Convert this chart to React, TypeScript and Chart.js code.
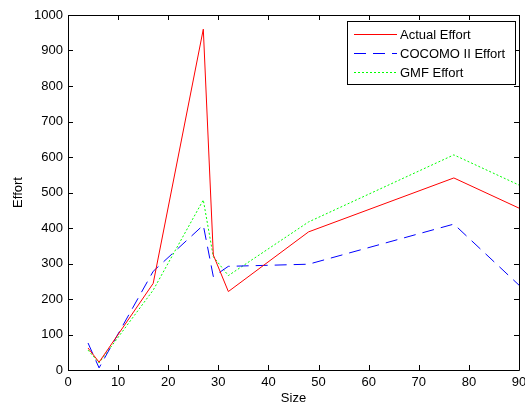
import React, { useEffect, useRef } from "react";
import { Chart, registerables } from "chart.js";

Chart.register(...registerables);

const sizes = [4, 6.2, 17, 27, 29, 32, 48, 77, 90];
const actualEffort = [62, 22, 244, 960, 324, 221, 389, 541, 456];
const cocomoEffort = [76, 6, 278, 408, 263, 292, 298, 411, 239];
const gmfEffort = [56, 20, 225, 479, 319, 266, 417, 606, 521];
const seriesLabels = ["Actual Effort", "COCOMO II Effort", "GMF Effort"];
const xTicks = [0, 10, 20, 30, 40, 50, 60, 70, 80, 90];
const yTicks = [0, 100, 200, 300, 400, 500, 600, 700, 800, 900, 1000];

const FONT = "'Liberation Sans', Arial, sans-serif";

const boxPlugin = {
  id: "matlabBox",
  afterDraw(chart: any) {
    const { ctx, chartArea } = chart;
    const { left, right, top, bottom } = chartArea;
    const xs = chart.scales.x;
    const ys = chart.scales.y;
    ctx.save();
    ctx.strokeStyle = "#000";
    ctx.lineWidth = 1;
    ctx.beginPath();
    ctx.rect(Math.round(left) + 0.5, Math.round(top) + 0.5, Math.round(right - left), Math.round(bottom - top));
    ctx.stroke();
    const tl = 5;
    ctx.beginPath();
    xTicks.forEach((v) => {
      const px = Math.round(xs.getPixelForValue(v)) + 0.5;
      ctx.moveTo(px, bottom);
      ctx.lineTo(px, bottom - tl);
      ctx.moveTo(px, top);
      ctx.lineTo(px, top + tl);
    });
    yTicks.forEach((v) => {
      const py = Math.round(ys.getPixelForValue(v)) + 0.5;
      ctx.moveTo(left, py);
      ctx.lineTo(left + tl, py);
      ctx.moveTo(right, py);
      ctx.lineTo(right - tl, py);
    });
    ctx.stroke();

    // legend
    const lx = 347, ly = 21, lw = 168, lh = 63;
    ctx.fillStyle = "#fff";
    ctx.fillRect(lx, ly, lw, lh);
    ctx.strokeStyle = "#000";
    ctx.strokeRect(lx + 0.5, ly + 0.5, lw, lh);
    ctx.font = "13px " + FONT;
    ctx.textBaseline = "middle";
    ctx.textAlign = "left";
    chart.data.datasets.forEach((ds: any, i: number) => {
      const y = Math.round(ly + 13 + i * 19) + 0.5;
      ctx.strokeStyle = ds.borderColor;
      ctx.lineWidth = 1;
      ctx.setLineDash(ds.borderDash || []);
      ctx.beginPath();
      ctx.moveTo(354, y);
      ctx.lineTo(397, y);
      ctx.stroke();
      ctx.setLineDash([]);
      ctx.fillStyle = "#000";
      ctx.fillText(ds.label, 400, y + 1);
    });
    ctx.restore();
  },
};

export default function App() {
  const ref = useRef<HTMLCanvasElement>(null);
  useEffect(() => {
    const canvas = ref.current!;
    const mk = (ys: number[]) => sizes.map((x, i) => ({ x, y: ys[i] }));
    const chart = new Chart(canvas, {
      type: "line",
      data: {
        datasets: [
          { label: seriesLabels[0], data: mk(actualEffort), borderColor: "#ff0000", borderWidth: 1, pointRadius: 0, tension: 0, fill: false },
          { label: seriesLabels[1], data: mk(cocomoEffort), borderColor: "#0000ff", borderWidth: 1, borderDash: [12, 7], pointRadius: 0, tension: 0, fill: false },
          { label: seriesLabels[2], data: mk(gmfEffort), borderColor: "#00ff00", borderWidth: 1, borderDash: [2, 2], pointRadius: 0, tension: 0, fill: false },
        ],
      },
      options: {
        responsive: false,
        animation: false,
        devicePixelRatio: 1,
        layout: { padding: { left: 8, top: 15, right: 6, bottom: 0 } },
        plugins: { legend: { display: false }, tooltip: { enabled: false } },
        scales: {
          x: {
            type: "linear",
            min: 0,
            max: 90,
            afterBuildTicks: (s: any) => { s.ticks = xTicks.map((v) => ({ value: v })); },
            afterFit: (s: any) => { s.height = 36; s.paddingRight = 0; s.paddingLeft = 0; },
            grid: { display: false, drawTicks: false },
            border: { display: false },
            ticks: { color: "#000", font: { size: 13, family: FONT }, padding: 5, maxRotation: 0, callback: (v: any) => String(v) },
            title: { display: true, text: "Size", color: "#000", font: { size: 13, family: FONT }, padding: { top: 0, bottom: 0 } },
          },
          y: {
            type: "linear",
            min: 0,
            max: 1000,
            afterBuildTicks: (s: any) => { s.ticks = yTicks.map((v) => ({ value: v })); },
            afterFit: (s: any) => { s.width = 60; s.paddingTop = 0; s.paddingBottom = 0; },
            grid: { display: false, drawTicks: false },
            border: { display: false },
            ticks: { color: "#000", font: { size: 13, family: FONT }, padding: 5, callback: (v: any) => String(v) },
            title: { display: true, text: "Effort", color: "#000", font: { size: 13, family: FONT }, padding: { top: 3, bottom: 0 } },
          },
        },
      },
      plugins: [boxPlugin],
    });
    return () => chart.destroy();
  }, []);
  return (
    <div style={{ position: "fixed", left: 0, top: 0, width: 525, height: 406, background: "#fff" }}>
      <canvas ref={ref} width={525} height={406} />
    </div>
  );
}
